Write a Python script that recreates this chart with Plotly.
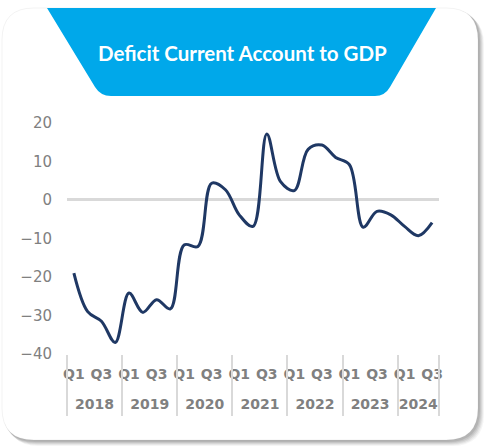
import plotly.graph_objects as go

# ---- data ----
years = ["2018", "2019", "2020", "2021", "2022", "2023", "2024"]
quarters_per_year = [4, 4, 4, 4, 4, 4, 3]
quarter_names = ["Q1", "Q2", "Q3", "Q4"]
quarter_shown = ["Q1", "", "Q3", ""]  # Q2 / Q4 labels hidden
values = [-19.0, -29.0, -31.5, -37.0,
          -24.2, -29.2, -25.9, -28.3,
          -11.7, -12.1, 4.3, 2.6,
          -3.9, -6.9, 17.1, 4.7,
          2.4, 13.1, 14.2, 11.0,
          9.1, -7.1, -3.0, -3.9,
          -6.9, -9.3, -5.9]
y_ticks = [-40, -30, -20, -10, 0, 10, 20]
title_text = "Deficit Current Account to GDP"

categories, cat_text = [], []
year_centers, boundaries = [], [-0.5]
idx = 0
for y, n in zip(years, quarters_per_year):
    for k in range(n):
        categories.append(f"{y} {quarter_names[k]}")
        cat_text.append(quarter_shown[k])
    year_centers.append(idx + (n - 1) / 2)
    idx += n
    boundaries.append(idx - 0.5)

# ---- geometry helpers (pixel -> paper) ----
W, H = 484, 446
ML, MR, MT, MB = 67, 45, 115, 92
PW, PH = W - ML - MR, H - MT - MB


def px(X):
    return (X - ML) / PW


def py(Y):
    return (H - MB - Y) / PH


def P(X, Y):
    return f"{px(X):.5f},{py(Y):.5f}"


def rounded_rect(x0, y0, x1, y1, r):
    return (f"M {P(x0 + r, y0)} L {P(x1 - r, y0)} Q {P(x1, y0)} {P(x1, y0 + r)} "
            f"L {P(x1, y1 - r)} Q {P(x1, y1)} {P(x1 - r, y1)} "
            f"L {P(x0 + r, y1)} Q {P(x0, y1)} {P(x0, y1 - r)} "
            f"L {P(x0, y0 + r)} Q {P(x0, y0)} {P(x0 + r, y0)} Z")


shapes = []
# shadow layers
for d, a in [(6, 0.05), (5, 0.07), (4, 0.09), (3, 0.11), (2, 0.13)]:
    shapes.append(dict(type="path", xref="paper", yref="paper", layer="below",
                       path=rounded_rect(2 + d - 1, 8 + d - 1, 478 + d, 440 + d, 32),
                       fillcolor=f"rgba(60,60,60,{a})", line=dict(width=0)))
# card
shapes.append(dict(type="path", xref="paper", yref="paper", layer="below",
                   path=rounded_rect(2, 8, 478, 440, 32),
                   fillcolor="white", line=dict(color="rgba(0,0,0,0.05)", width=1)))
# banner
banner = (f"M {P(47, 8)} L {P(436, 8)} L {P(390, 87)} Q {P(385, 96)} {P(375, 96)} "
          f"L {P(111, 96)} Q {P(100.5, 96)} {P(95, 87)} Z")
shapes.append(dict(type="path", xref="paper", yref="paper", layer="below",
                   path=banner, fillcolor="#00a8ea", line=dict(width=0)))

xr = [-0.5, len(categories) - 0.5]
label_font = dict(family="DejaVu Sans", size=14, color="#808080", weight="bold")

fig = go.Figure()
fig.add_trace(go.Scatter(
    x=categories, y=values, mode="lines",
    line=dict(color="#1f3864", width=3, shape="spline", smoothing=1.0),
    hoverinfo="skip", showlegend=False))
# invisible helper traces so the year / divider axes get drawn
fig.add_trace(go.Scatter(x=boundaries, y=[None] * len(boundaries), xaxis="x2",
                         mode="lines", hoverinfo="skip", showlegend=False))
fig.add_trace(go.Scatter(x=year_centers, y=[None] * len(year_centers), xaxis="x3",
                         mode="lines", hoverinfo="skip", showlegend=False))

fig.update_layout(
    width=W, height=H,
    margin=dict(l=ML, r=MR, t=MT, b=MB),
    paper_bgcolor="white", plot_bgcolor="rgba(0,0,0,0)",
    shapes=shapes,
    annotations=[dict(text=title_text, xref="paper", yref="paper",
                      x=px(242), y=py(53), showarrow=False,
                      xanchor="center", yanchor="middle",
                      font=dict(family="Lato", size=20.5, color="white", weight="bold"))],
    xaxis=dict(type="category", range=xr, showgrid=False, zeroline=False, showline=False,
               tickmode="array", tickvals=categories, ticktext=cat_text,
               tickangle=0, ticks="outside", ticklen=7, tickcolor="rgba(0,0,0,0)",
               tickfont=label_font),
    xaxis2=dict(overlaying="x", anchor="y", side="bottom", range=xr, type="linear",
                showgrid=False, zeroline=False, showline=False,
                tickmode="array", tickvals=boundaries, showticklabels=False,
                ticks="outside", ticklen=61, tickwidth=2, tickcolor="#d9d9d9"),
    xaxis3=dict(overlaying="x", anchor="y", side="bottom", range=xr, type="linear",
                showgrid=False, zeroline=False, showline=False,
                tickmode="array", tickvals=year_centers, ticktext=years,
                tickangle=0, ticks="outside", ticklen=37, tickcolor="rgba(0,0,0,0)",
                tickfont=label_font),
    yaxis=dict(range=[-40, 22], tickvals=y_ticks, showgrid=False, showline=False,
               zeroline=True, zerolinecolor="#d9d9d9", zerolinewidth=2.5,
               ticks="outside", ticklen=11, tickcolor="rgba(0,0,0,0)",
               tickfont=dict(family="DejaVu Sans", size=15, color="#808080")),
)

fig.write_html("out.html", config={"displayModeBar": False},
               post_script="document.body.style.margin='0';")
